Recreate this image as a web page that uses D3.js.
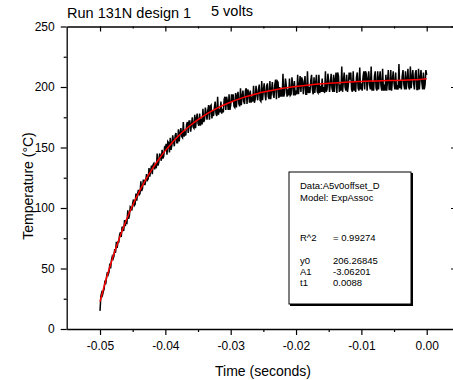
<!DOCTYPE html>
<html>
<head>
<meta charset="utf-8">
<script src="https://cdn.jsdelivr.net/npm/d3@7"></script>
<style>
body { margin: 0; background: #fff; }
text { font-family: Arial, "Liberation Sans", sans-serif; fill: #000; }
</style>
</head>
<body>
<div id="chart"></div>
<script>
// measured temperature trace, time in ms (samples on the quarter ms)
const timeMs = [
  -50,-49.75,-49.5,-49.25,-49,-48.75,-48.5,-48.25,-48,-47.75,
  -47.5,-47.25,-47,-46.75,-46.5,-46.25,-46,-45.75,-45.5,-45.25,
  -45,-44.75,-44.5,-44.25,-44,-43.75,-43.5,-43.25,-43,-42.75,
  -42.5,-42.25,-42,-41.75,-41.5,-41.25,-41,-40.75,-40.5,-40.25,
  -40,-39.75,-39.5,-39.25,-39,-38.75,-38.5,-38.25,-38,-37.75,
  -37.5,-37.25,-37,-36.75,-36.5,-36.25,-36,-35.75,-35.5,-35.25,
  -35,-34.75,-34.5,-34.25,-34,-33.75,-33.5,-33.25,-33,-32.75,
  -32.5,-32.25,-32,-31.75,-31.5,-31.25,-31,-30.75,-30.5,-30.25,
  -30,-29.75,-29.5,-29.25,-29,-28.75,-28.5,-28.25,-28,-27.75,
  -27.5,-27.25,-27,-26.75,-26.5,-26.25,-26,-25.75,-25.5,-25.25,
  -25,-24.75,-24.5,-24.25,-24,-23.75,-23.5,-23.25,-23,-22.75,
  -22.5,-22.25,-22,-21.75,-21.5,-21.25,-21,-20.75,-20.5,-20.25,
  -20,-19.75,-19.5,-19.25,-19,-18.75,-18.5,-18.25,-18,-17.75,
  -17.5,-17.25,-17,-16.75,-16.5,-16.25,-16,-15.75,-15.5,-15.25,
  -15,-14.75,-14.5,-14.25,-14,-13.75,-13.5,-13.25,-13,-12.75,
  -12.5,-12.25,-12,-11.75,-11.5,-11.25,-11,-10.75,-10.5,-10.25,
  -10,-9.75,-9.5,-9.25,-9,-8.75,-8.5,-8.25,-8,-7.75,
  -7.5,-7.25,-7,-6.75,-6.5,-6.25,-6,-5.75,-5.5,-5.25,
  -5,-4.75,-4.5,-4.25,-4,-3.75,-3.5,-3.25,-3,-2.75,
  -2.5,-2.25,-2,-1.75,-1.5,-1.25,-1,-0.75,-0.5,-0.25,
  0
];
const tempMeasured = [
  15,30,31,40,43,45,54,57,58,66,
  72,72,78,76,84,90,89,98,94,100,
  104,102,112,112,111,122,116,123,123,123,
  133,131,128,137,135,145,138,143,148,143,
  149,144,154,158,152,155,160,154,165,162,
  159,171,162,169,162,172,169,167,177,174,
  170,178,174,182,173,178,181,173,185,180,
  183,178,192,182,188,182,190,181,188,194,
  185,188,184,195,193,186,199,192,188,197,
  186,195,197,192,201,190,195,198,189,205,
  197,194,201,192,205,197,194,202,190,204,
  200,198,211,195,202,198,207,194,201,205,
  197,210,201,196,205,203,194,213,200,205,
  198,208,203,196,210,201,207,200,213,198,
  205,203,199,210,206,195,209,202,217,205,
  200,210,201,206,198,213,204,208,199,216,
  203,208,198,211,206,202,217,204,209,199,
  213,207,201,215,202,210,205,198,214,206,
  203,212,200,219,205,209,202,213,206,200,
  217,208,203,211,198,215,207,204,212,202,
  210
];
// in-between samples of the same trace
const timeMsMid = [
  -49.875,-49.625,-49.375,-49.125,-48.875,-48.625,-48.375,-48.125,
  -47.875,-47.625,-47.375,-47.125,-46.875,-46.625,-46.375,-46.125,
  -45.875,-45.625,-45.375,-45.125,-44.875,-44.625,-44.375,-44.125,
  -43.875,-43.625,-43.375,-43.125,-42.875,-42.625,-42.375,-42.125,
  -41.875,-41.625,-41.375,-41.125,-40.875,-40.625,-40.375,-40.125,
  -39.875,-39.625,-39.375,-39.125,-38.875,-38.625,-38.375,-38.125,
  -37.875,-37.625,-37.375,-37.125,-36.875,-36.625,-36.375,-36.125,
  -35.875,-35.625,-35.375,-35.125,-34.875,-34.625,-34.375,-34.125,
  -33.875,-33.625,-33.375,-33.125,-32.875,-32.625,-32.375,-32.125,
  -31.875,-31.625,-31.375,-31.125,-30.875,-30.625,-30.375,-30.125,
  -29.875,-29.625,-29.375,-29.125,-28.875,-28.625,-28.375,-28.125,
  -27.875,-27.625,-27.375,-27.125,-26.875,-26.625,-26.375,-26.125,
  -25.875,-25.625,-25.375,-25.125,-24.875,-24.625,-24.375,-24.125,
  -23.875,-23.625,-23.375,-23.125,-22.875,-22.625,-22.375,-22.125,
  -21.875,-21.625,-21.375,-21.125,-20.875,-20.625,-20.375,-20.125,
  -19.875,-19.625,-19.375,-19.125,-18.875,-18.625,-18.375,-18.125,
  -17.875,-17.625,-17.375,-17.125,-16.875,-16.625,-16.375,-16.125,
  -15.875,-15.625,-15.375,-15.125,-14.875,-14.625,-14.375,-14.125,
  -13.875,-13.625,-13.375,-13.125,-12.875,-12.625,-12.375,-12.125,
  -11.875,-11.625,-11.375,-11.125,-10.875,-10.625,-10.375,-10.125,
  -9.875,-9.625,-9.375,-9.125,-8.875,-8.625,-8.375,-8.125,
  -7.875,-7.625,-7.375,-7.125,-6.875,-6.625,-6.375,-6.125,
  -5.875,-5.625,-5.375,-5.125,-4.875,-4.625,-4.375,-4.125,
  -3.875,-3.625,-3.375,-3.125,-2.875,-2.625,-2.375,-2.125,
  -1.875,-1.625,-1.375,-1.125,-0.875,-0.625,-0.375,-0.125
];
const tempMeasuredMid = [
  27,28,33,37,47,47,50,60,60,63,
  67,72,80,84,81,85,88,91,101,98,
  107,103,106,115,112,114,123,119,128,124,
  126,135,136,132,134,135,145,139,141,150,
  153,155,146,148,160,151,162,154,155,166,
  158,159,160,171,172,163,175,166,166,178,
  168,168,169,171,183,173,185,184,174,176,
  188,176,177,179,178,179,192,192,181,181,
  194,194,183,183,196,184,185,197,186,199,
  198,187,187,188,187,201,189,202,188,189,
  203,189,203,190,190,204,191,206,205,191,
  192,192,192,207,192,193,193,208,193,193,
  194,194,209,208,194,209,194,195,195,210,
  194,195,210,195,195,196,196,195,196,211,
  196,211,196,196,212,212,196,197,196,212,
  197,196,212,212,196,197,196,212,197,198,
  197,213,213,197,213,198,197,197,213,197,
  198,213,197,197,197,197,214,198,197,213,
  198,198,198,199,198,214,198,198,215,198,
  199,214,198,214,198,198,214,198,198,214
];

// ExpAssoc fit curve
const fitTimeMs = [
  -50,-49,-48,-47,-46,-45,-44,-43,-42,-41,
  -40,-39,-38,-37,-36,-35,-34,-33,-32,-31,
  -30,-29,-28,-27,-26,-25,-24,-23,-22,-21,
  -20,-19,-18,-17,-16,-15,-14,-13,-12,-11,
  -10,-9,-8,-7,-6,-5,-4,-3,-2,-1,0
];
const tempFit = [
  22.5,42.3,59.9,75.7,89.7,102.3,113.5,123.4,132.4,140.3,
  147.4,153.8,159.5,164.5,169.0,173.0,176.6,179.8,182.7,185.3,
  187.5,189.6,191.4,193.0,194.5,195.8,196.9,197.9,198.9,199.7,
  200.4,201.1,201.7,202.2,202.6,203.1,203.4,203.8,204.1,204.3,
  204.6,204.8,205.0,205.1,205.3,205.4,205.5,205.7,205.9,206.3,206.8
];

const xTicks = [-0.05, -0.04, -0.03, -0.02, -0.01, 0.00];
const xMinorTicks = [-0.045, -0.035, -0.025, -0.015, -0.005];
const yTicks = [0, 50, 100, 150, 200, 250];
const yMinorTicks = [25, 75, 125, 175, 225];

const fitInfo = ["Data:A5v0offset_D", "Model: ExpAssoc"];
const fitStats = [["R^2", "= 0.99274"], ["y0", "206.26845"], ["A1", "-3.06201"], ["t1", "0.0088"]];

//-------- layout --------
let width = 453, height = 380;
let plotLeft = 66.7, plotRight = 455, plotTop = 26.5, plotBottom = 329;

let svg = d3.select("#chart").append("svg")
  .attr("width", width)
  .attr("height", height);

let xScale = d3.scaleLinear().domain([-0.0551, 0.00433]).range([plotLeft, plotRight]);
let yScale = d3.scaleLinear().domain([0, 250]).range([plotBottom, plotTop]);

//-------- data lines --------
// put both sample sets together in time order
let measured = timeMs.map((t, i) => [t / 1000, tempMeasured[i]])
  .concat(timeMsMid.map((t, i) => [t / 1000, tempMeasuredMid[i]]))
  .sort((a, b) => a[0] - b[0]);
let fitted = fitTimeMs.map((t, i) => [t / 1000, tempFit[i]]);

let line = d3.line().x(d => xScale(d[0])).y(d => yScale(d[1]));

svg.append("path")
  .datum(measured)
  .attr("d", line)
  .attr("fill", "none")
  .attr("stroke", "#000")
  .attr("stroke-width", 1.5);

svg.append("path")
  .datum(fitted)
  .attr("d", line.curve(d3.curveMonotoneX))
  .attr("fill", "none")
  .attr("stroke", "#ff0000")
  .attr("stroke-width", 1.5);

//-------- axes --------
function styleAxis(g, showDomain) {
  g.selectAll("line").attr("stroke", "#000").attr("stroke-width", 1.2);
  g.select(".domain").attr("stroke", showDomain ? "#000" : "none").attr("stroke-width", 1.3);
  g.selectAll("text").style("font-size", "12px").attr("fill", "#000");
}

// bottom
svg.append("g").attr("transform", `translate(0,${plotBottom})`)
  .call(d3.axisBottom(xScale).tickValues(xTicks).tickSize(6).tickSizeOuter(0).tickPadding(6)
    .tickFormat(d => d.toFixed(2)))
  .call(g => styleAxis(g, true));
svg.append("g").attr("transform", `translate(0,${plotBottom})`)
  .call(d3.axisBottom(xScale).tickValues(xMinorTicks).tickSize(3).tickFormat(""))
  .call(g => styleAxis(g, false));

// top (ticks inward)
svg.append("g").attr("transform", `translate(0,${plotTop})`)
  .call(d3.axisBottom(xScale).tickValues(xTicks).tickSize(5).tickSizeOuter(0).tickFormat(""))
  .call(g => styleAxis(g, true));
svg.append("g").attr("transform", `translate(0,${plotTop})`)
  .call(d3.axisBottom(xScale).tickValues(xMinorTicks).tickSize(2).tickFormat(""))
  .call(g => styleAxis(g, false));

// left
svg.append("g").attr("transform", `translate(${plotLeft},0)`)
  .call(d3.axisLeft(yScale).tickValues(yTicks).tickSize(6).tickSizeOuter(0).tickPadding(6)
    .tickFormat(d3.format("d")))
  .call(g => styleAxis(g, true));
svg.append("g").attr("transform", `translate(${plotLeft},0)`)
  .call(d3.axisLeft(yScale).tickValues(yMinorTicks).tickSize(3).tickFormat(""))
  .call(g => styleAxis(g, false));

// right (ticks inward)
svg.append("g").attr("transform", `translate(${plotRight},0)`)
  .call(d3.axisLeft(yScale).tickValues(yTicks).tickSize(4).tickSizeOuter(0).tickFormat(""))
  .call(g => styleAxis(g, true));

//-------- titles --------
svg.append("text").attr("x", 67).attr("y", 17.5).style("font-size", "14.5px").text("Run 131N design 1");
svg.append("text").attr("x", 211).attr("y", 16).style("font-size", "14.5px").text("5 volts");

svg.append("text")
  .attr("x", 263).attr("y", 376)
  .attr("text-anchor", "middle")
  .style("font-size", "14px")
  .text("Time (seconds)");

svg.append("text")
  .attr("transform", "translate(33,186) rotate(-90)")
  .attr("text-anchor", "middle")
  .style("font-size", "14px")
  .text("Temperature (\u00B0C)");

//-------- fit info box --------
let box = svg.append("g");
box.append("rect")
  .attr("x", 290).attr("y", 173).attr("width", 123).attr("height", 133)
  .attr("fill", "#000");
box.append("rect")
  .attr("x", 289).attr("y", 172).attr("width", 122).attr("height", 132)
  .attr("fill", "#fff").attr("stroke", "#000").attr("stroke-width", 1);

box.selectAll("text.info").data(fitInfo).enter().append("text")
  .attr("x", 300).attr("y", (d, i) => 189 + i * 12)
  .style("font-size", "9.5px")
  .text(d => d);

let statY = [241, 264, 275, 286];
fitStats.forEach((s, i) => {
  box.append("text").attr("x", 300).attr("y", statY[i]).style("font-size", "9.5px").text(s[0]);
  box.append("text").attr("x", 333).attr("y", statY[i]).style("font-size", "9.5px").text(s[1]);
});
</script>
</body>
</html>
